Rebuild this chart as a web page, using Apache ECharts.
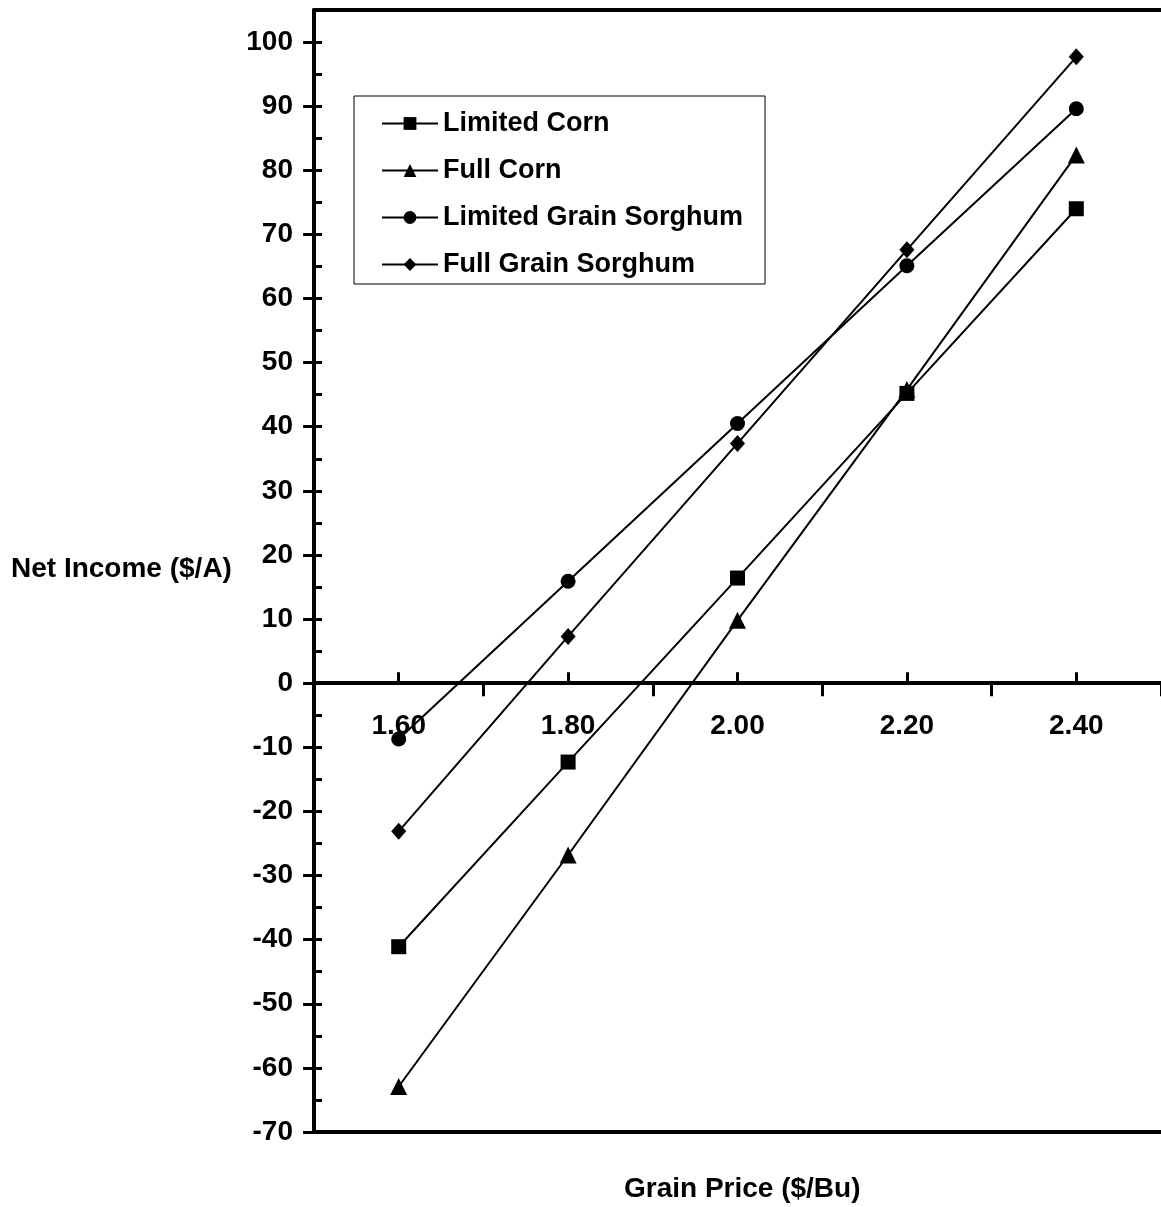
<!DOCTYPE html>
<html><head><meta charset="utf-8">
<script src="https://cdn.jsdelivr.net/npm/echarts@6/dist/echarts.min.js"></script>
<style>html,body{margin:0;padding:0;background:#fff}#c{width:1161px;height:1207px}</style>
</head><body><div id="c"></div>
<script>
const categories = ['1.60', '1.80', '2.00', '2.20', '2.40'];
const seriesNames = ['Limited Corn', 'Full Corn', 'Limited Grain Sorghum', 'Full Grain Sorghum'];
const limitedCorn = [-41.1, -12.3, 16.4, 45.2, 74.0];
const fullCorn = [-62.9, -26.8, 9.8, 45.8, 82.4];
const limitedSorghum = [-8.7, 15.9, 40.5, 65.1, 89.6];
const fullSorghum = [-23.1, 7.3, 37.4, 67.6, 97.7];
const yMajorTicks = [-70, -60, -50, -40, -30, -20, -10, 0, 10, 20, 30, 40, 50, 60, 70, 80, 90, 100];
const yMinorTicks = [-70, -65, -60, -55, -50, -45, -40, -35, -30, -25, -20, -15, -10, -5, 0, 5, 10, 15, 20, 25, 30, 35, 40, 45, 50, 55, 60, 65, 70, 75, 80, 85, 90, 95, 100];
const yMin = -70, yMax = 105;
const xTitle = 'Grain Price ($/Bu)';
const yTitle = 'Net Income ($/A)';

const FONT = '"Liberation Sans", Arial, sans-serif';
const FS = 28;
const chart = echarts.init(document.getElementById('c'), null, {renderer: 'canvas'});

const GRID_TOP = 10, GRID_H = 1122;
const zeroOffset = GRID_H * (yMax - 0) / (yMax - yMin); // height from grid top to the zero line

const symbols = ['rect', 'triangle', 'circle', 'diamond'];
const sizes = [15, [17, 17], 15, [15, 17]];
const datas = [limitedCorn, fullCorn, limitedSorghum, fullSorghum];

function catAxis(extra) {
  return Object.assign({type: 'category', data: categories, gridIndex: 0, splitLine: {show: false}}, extra);
}

chart.setOption({
  animation: false,
  backgroundColor: '#fff',
  textStyle: {fontFamily: FONT},
  grid: [
    {left: 314, top: GRID_TOP, width: 850, height: GRID_H, containLabel: false},
    {left: 314, top: GRID_TOP, width: 850, height: zeroOffset, containLabel: false}
  ],
  legend: {
    orient: 'vertical', left: 354, top: 96,
    padding: [14, 22, 6, 27],
    itemGap: 20, itemWidth: 56, itemHeight: 16,
    borderColor: '#000', borderWidth: 1,
    backgroundColor: '#fff',
    lineStyle: {width: 2, color: '#000'},
    textStyle: {fontFamily: FONT, fontSize: 27, fontWeight: 'bold', color: '#000'},
    data: seriesNames
  },
  xAxis: [
    catAxis({
      position: 'bottom',
      axisLine: {onZero: true, onZeroAxisIndex: 0, lineStyle: {color: '#000', width: 4}},
      axisTick: {show: true, inside: false, length: 13, lineStyle: {color: '#000', width: 3}},
      axisLabel: {show: false}
    }),
    catAxis({
      position: 'bottom',
      axisLine: {show: false, onZero: true, onZeroAxisIndex: 1},
      axisTick: {show: true, inside: true, alignWithLabel: true, length: 11, lineStyle: {color: '#000', width: 3}},
      axisLabel: {show: false}
    }),
    catAxis({
      position: 'bottom',
      axisLine: {onZero: false, lineStyle: {color: '#000', width: 4}},
      axisTick: {show: false}, axisLabel: {show: false}
    }),
    catAxis({
      position: 'top',
      axisLine: {onZero: false, lineStyle: {color: '#000', width: 4}},
      axisTick: {show: false}, axisLabel: {show: false}
    }),
    catAxis({
      gridIndex: 1, position: 'bottom',
      axisLine: {show: false, onZero: false},
      axisTick: {show: false},
      axisLabel: {margin: 29, fontFamily: FONT, fontSize: FS, fontWeight: 'bold', color: '#000'}
    })
  ],
  yAxis: [
    {
      type: 'value', min: yMin, max: yMax, interval: 10, position: 'left',
      axisLine: {show: true, onZero: false, lineStyle: {color: '#000', width: 4}},
      axisTick: {show: true, inside: false, length: 11, customValues: yMajorTicks, lineStyle: {color: '#000', width: 3}},
      axisLabel: {margin: 21, customValues: yMajorTicks, fontFamily: FONT, fontSize: FS, fontWeight: 'bold', color: '#000'},
      splitLine: {show: false}
    },
    {
      type: 'value', min: yMin, max: yMax, interval: 10, position: 'left',
      axisLine: {show: false, onZero: false},
      axisTick: {show: true, inside: true, length: 8, customValues: yMinorTicks, lineStyle: {color: '#000', width: 3}},
      axisLabel: {show: false},
      splitLine: {show: false}
    },
    {
      type: 'value', gridIndex: 1, min: 0, max: yMax, show: false
    }
  ],
  graphic: [
    {type: 'text', left: 11, top: 555, style: {text: yTitle, font: 'bold ' + FS + 'px ' + FONT, fill: '#000'}},
    {type: 'text', left: 624, top: 1175, style: {text: xTitle, font: 'bold ' + FS + 'px ' + FONT, fill: '#000'}}
  ],
  series: seriesNames.map((n, i) => ({
    name: n, type: 'line', xAxisIndex: 0, yAxisIndex: 0,
    data: datas[i],
    symbol: symbols[i], symbolSize: sizes[i], showAllSymbol: true,
    color: '#000',
    itemStyle: {color: '#000'},
    lineStyle: {color: '#000', width: 2},
    emphasis: {disabled: true}
  }))
});
</script></body></html>
